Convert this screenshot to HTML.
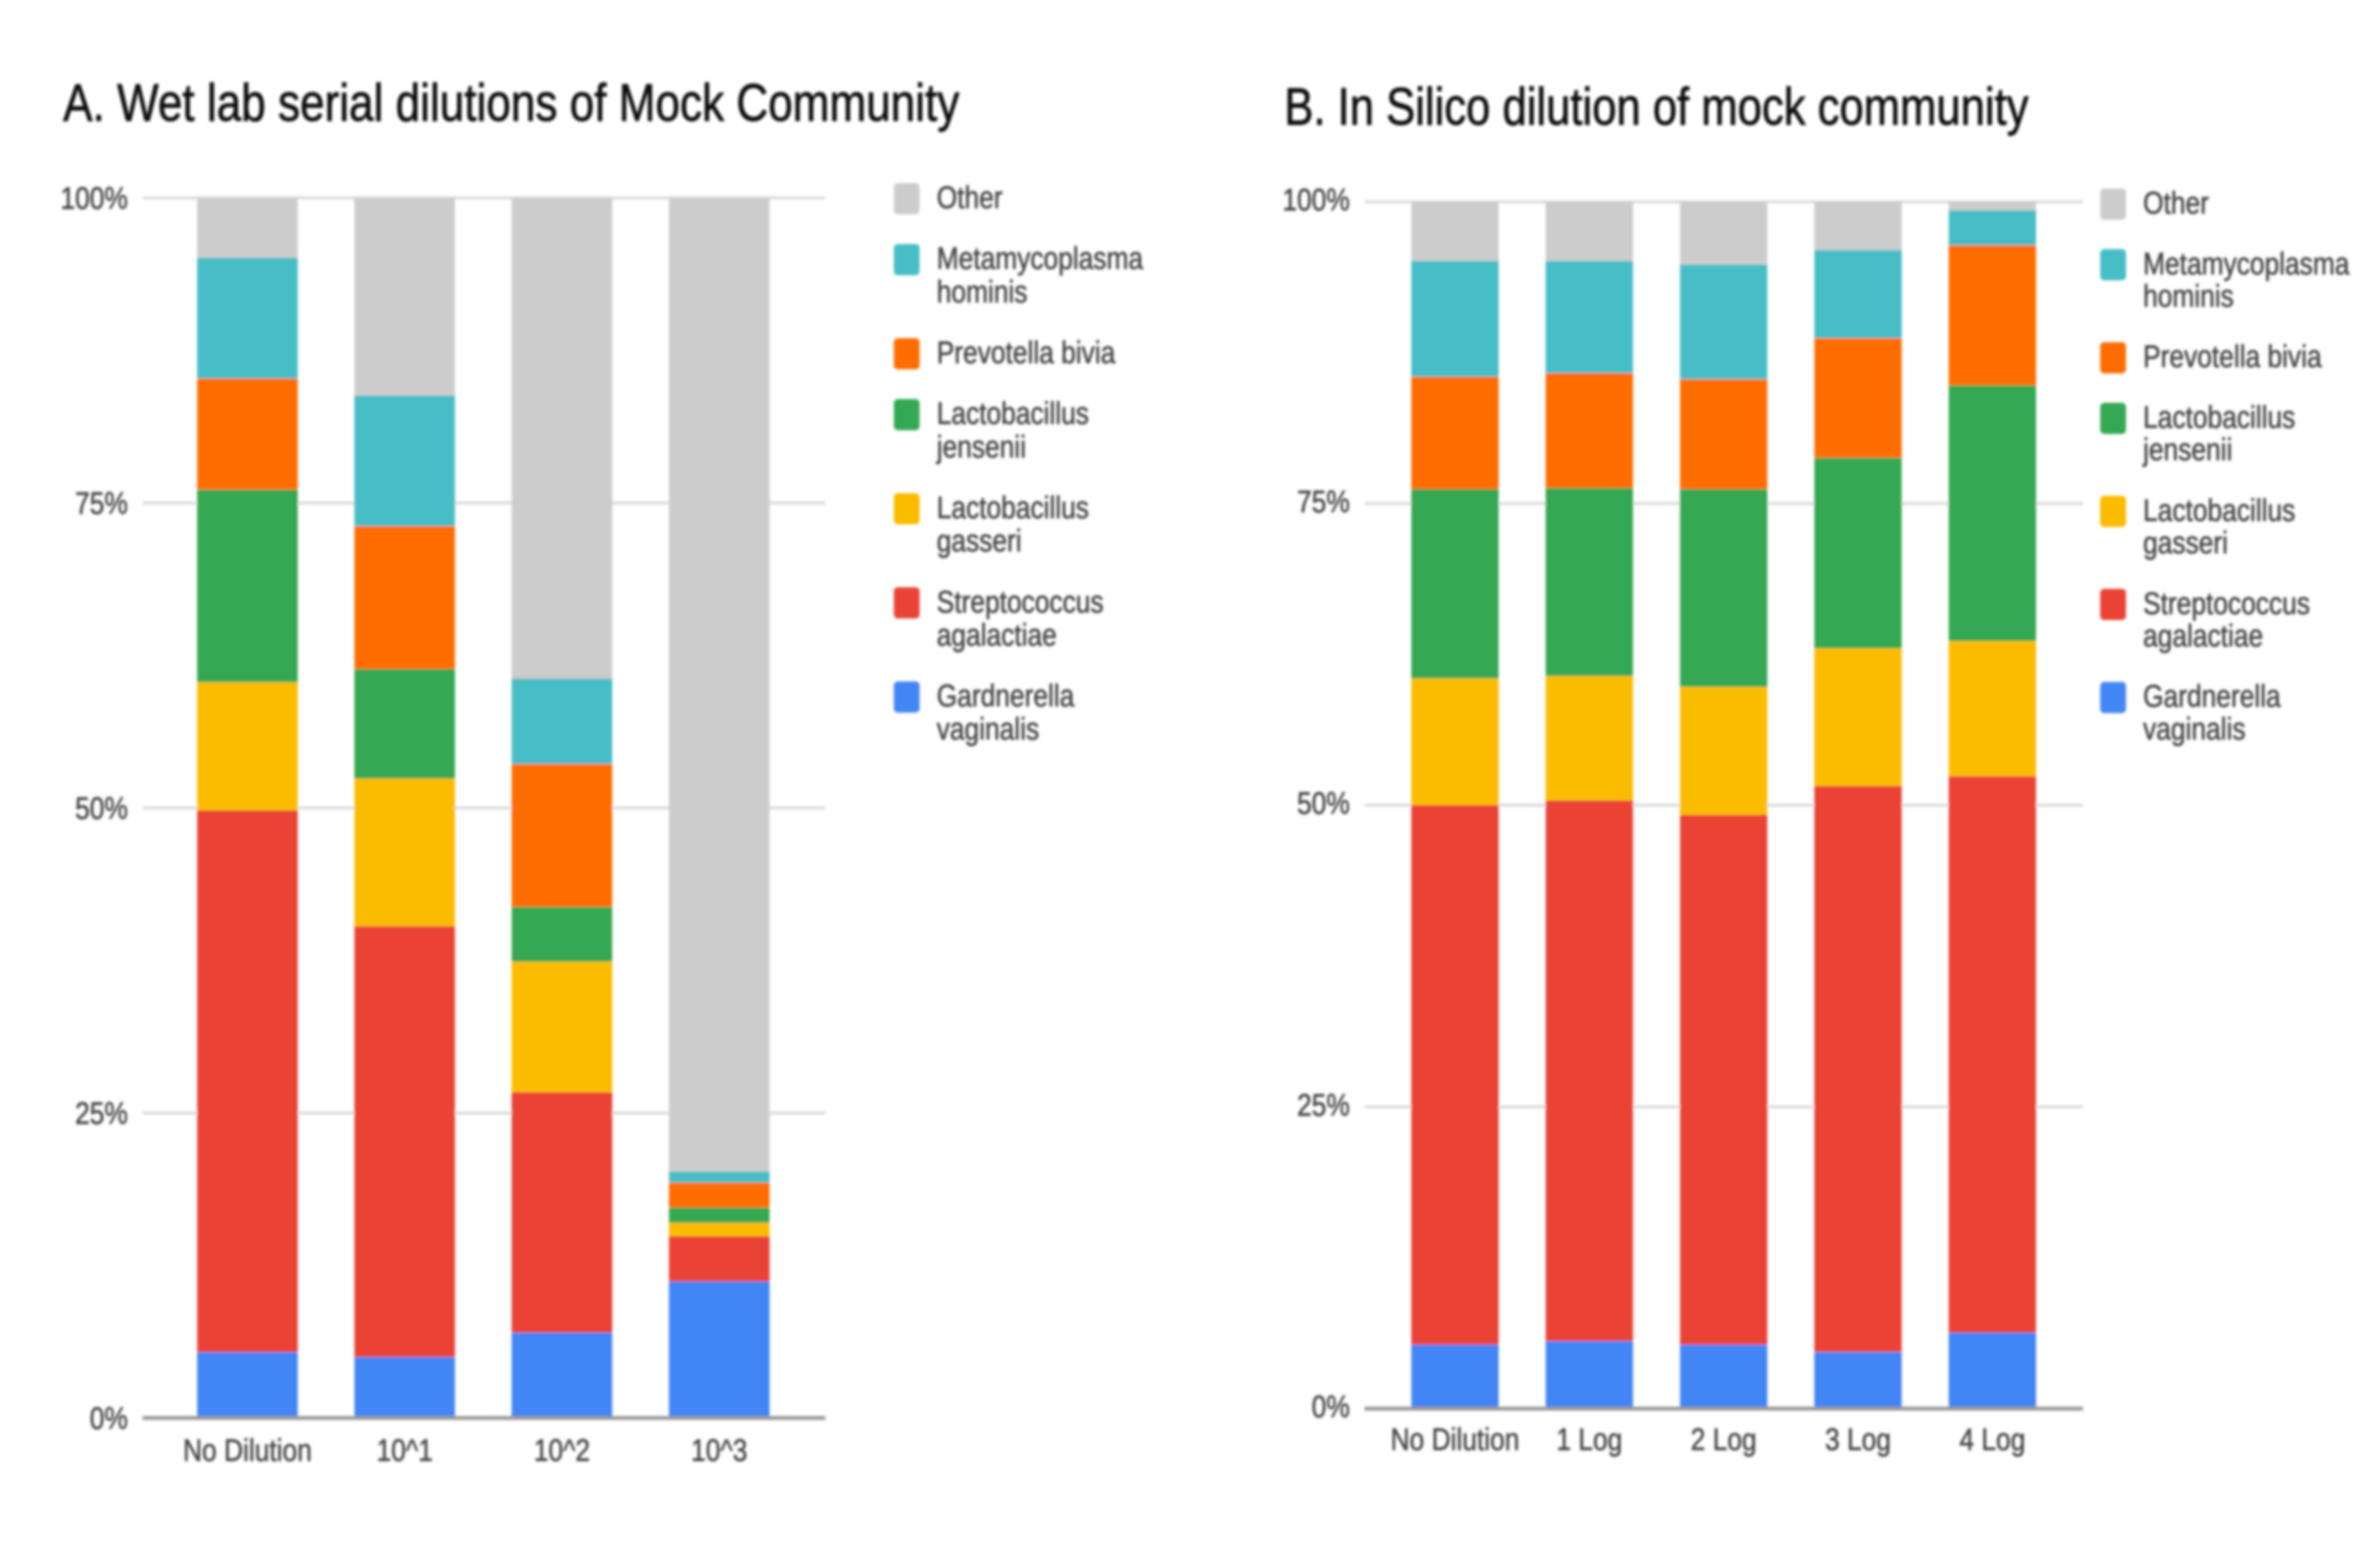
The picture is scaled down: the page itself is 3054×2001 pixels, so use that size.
<!DOCTYPE html>
<html lang="en">
<head>
<meta charset="utf-8">
<title>Serial dilutions of mock community</title>
<style>
html,body{margin:0;padding:0;background:#fff;width:3054px;height:2001px;overflow:hidden}
svg{display:block}
text{font-family:"Liberation Sans",Arial,sans-serif}
</style>
</head>
<body>
<svg id="figure" xmlns="http://www.w3.org/2000/svg" width="3054" height="2001" viewBox="0 0 3054 2001">
  <defs>
    <filter id="soft" filterUnits="userSpaceOnUse" x="0" y="0" width="3054" height="2001">
      <feGaussianBlur stdDeviation="1.8"/>
    </filter>
  </defs>
  <rect width="3054" height="2001" fill="#ffffff"/>
  <g id="root" filter="url(#soft)">
    <text x="81" y="155" font-size="68" fill="#111111" stroke="#111111" stroke-width="0.9" textLength="1150" lengthAdjust="spacingAndGlyphs">A. Wet lab serial dilutions of Mock Community</text>
    <text x="1648" y="160" font-size="68" fill="#111111" stroke="#111111" stroke-width="0.9" textLength="955" lengthAdjust="spacingAndGlyphs">B. In Silico dilution of mock community</text>
    <g id="chartA"></g>
    <g id="chartB"></g>
  </g>
</svg>
<script>
// Shared labels
const seriesNames = ["Gardnerella vaginalis","Streptococcus agalactiae","Lactobacillus gasseri","Lactobacillus jensenii","Prevotella bivia","Metamycoplasma hominis","Other"];
const seriesColors = ["#4285F4","#EA4335","#FBBC04","#34A853","#FF6D01","#46BDC6","#CCCCCC"];
const legendLabels = [["Other"],["Metamycoplasma","hominis"],["Prevotella bivia"],["Lactobacillus","jensenii"],["Lactobacillus","gasseri"],["Streptococcus","agalactiae"],["Gardnerella","vaginalis"]];
const percentTicks = [0,25,50,75,100];

// Chart A: wet lab serial dilutions (percent of reads)
const wetCategories = ["No Dilution","10^1","10^2","10^3"];
const wetGardnerella = [5.4,5.0,7.0,11.2];
const wetStreptococcus = [44.4,35.3,19.7,3.7];
const wetGasseri = [10.5,12.1,10.7,1.1];
const wetJensenii = [15.8,9.0,4.5,1.25];
const wetPrevotella = [9.1,11.7,11.7,2.05];
const wetMetamycoplasma = [9.9,10.7,7.0,0.9];
const wetOther = [4.9,16.2,39.4,79.8];

// Chart B: in silico dilution (percent of reads)
const silicoCategories = ["No Dilution","1 Log","2 Log","3 Log","4 Log"];
const silicoGardnerella = [5.3,5.6,5.3,4.7,6.3];
const silicoStreptococcus = [44.7,44.8,43.9,46.9,46.1];
const silicoGasseri = [10.5,10.3,10.6,11.4,11.2];
const silicoJensenii = [15.7,15.6,16.4,15.8,21.2];
const silicoPrevotella = [9.3,9.5,9.1,9.9,11.6];
const silicoMetamycoplasma = [9.6,9.3,9.5,7.3,2.9];
const silicoOther = [4.9,4.9,5.2,4.0,0.7];

const NS = "http://www.w3.org/2000/svg";
function slug(s){return s.toLowerCase().replace(/[^a-z0-9]+/g,"-").replace(/(^-|-$)/g,"");}

function makeRect(parent,x,y,w,h,fill,rx){
  const r = document.createElementNS(NS,"rect");
  r.setAttribute("x",x);
  r.setAttribute("y",y);
  r.setAttribute("width",w);
  r.setAttribute("height",h);
  r.setAttribute("fill",fill);
  if(rx) r.setAttribute("rx",rx);
  parent.appendChild(r);
  return r;
}
function makeText(parent,str,x,y,anchor,fill){
  const t = document.createElementNS(NS,"text");
  t.setAttribute("transform","translate("+x+","+y+") scale(0.845,1)");
  t.setAttribute("font-size","40");
  t.setAttribute("text-anchor",anchor);
  t.setAttribute("fill",fill);
  t.setAttribute("stroke",fill);
  t.setAttribute("stroke-width","0.7");
  t.textContent = str;
  parent.appendChild(t);
  return t;
}

function drawChart(cfg){
  const g = document.getElementById(cfg.id);
  const yScale = v => cfg.y0 - (cfg.y0 - cfg.y100) * v / 100;
  const xCenter = i => cfg.firstCenter + cfg.step * i;

  percentTicks.forEach(tick => {
    const y = yScale(tick);
    if(tick !== 0){
      const line = makeRect(g,cfg.axisLeft,y-2,cfg.axisRight-cfg.axisLeft,4,"#dddddd");
      
      
    }
    const label = makeText(g,tick+"%",cfg.tickRight,y+cfg.tickDy,"end","#444444");
    
    
  });

  cfg.categories.forEach((cat,i) => {
    let base = 0;
    cfg.series.forEach((vals,s) => {
      const top = base + vals[i];
      const bar = makeRect(g,xCenter(i)-cfg.barWidth/2,yScale(top),cfg.barWidth,yScale(base)-yScale(top),seriesColors[s]);
      
      
      base = top;
    });
    const label = makeText(g,cat,xCenter(i),cfg.xLabelY,"middle","#444444");
    
    
  });

  const axis = makeRect(g,cfg.axisLeft,cfg.y0-2.5,cfg.axisRight-cfg.axisLeft,5,"#999999");
  
  

  let cursor = cfg.legendTop;
  legendLabels.forEach(lines => {
    const swatchColor = seriesColors[seriesNames.indexOf(lines.join(" "))];
    const swatch = makeRect(g,cfg.swatchX,cursor-20,33,40,swatchColor,5);
    
    
    lines.forEach((line,n) => {
      const label = makeText(g,line,cfg.swatchX+55,cursor+12+n*cfg.lineGap,"start","#444444");
      
      
    });
    cursor += cfg.itemGap + cfg.lineGap * (lines.length - 1);
  });
}

drawChart({
  id:"chartA",prefix:"chart-a",categories:wetCategories,
  series:[wetGardnerella,wetStreptococcus,wetGasseri,wetJensenii,wetPrevotella,wetMetamycoplasma,wetOther],
  y0:1820,y100:254,axisLeft:183,axisRight:1059,tickRight:164,tickDy:14,
  firstCenter:317.5,step:201.8,barWidth:129,xLabelY:1875,
  swatchX:1147,legendTop:255,itemGap:78.2,lineGap:42.6
});
drawChart({
  id:"chartB",prefix:"chart-b",categories:silicoCategories,
  series:[silicoGardnerella,silicoStreptococcus,silicoGasseri,silicoJensenii,silicoPrevotella,silicoMetamycoplasma,silicoOther],
  y0:1808,y100:259,axisLeft:1751,axisRight:2673,tickRight:1732,tickDy:11,
  firstCenter:1867,step:172.4,barWidth:112,xLabelY:1861,
  swatchX:2695,legendTop:262,itemGap:77.8,lineGap:41.6
});
</script>
</body>
</html>
